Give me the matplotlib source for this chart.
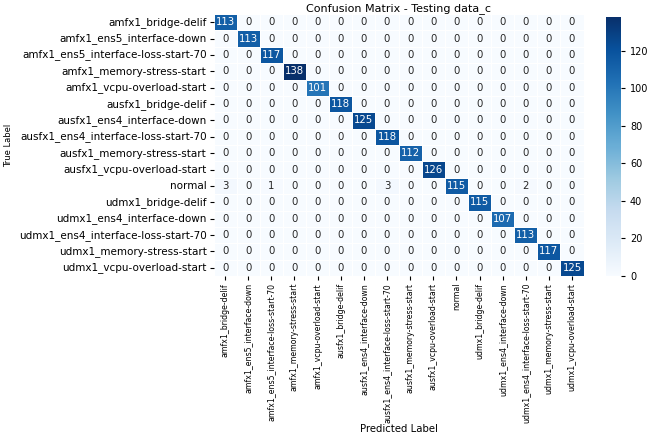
import matplotlib
matplotlib.use("Agg")
import matplotlib.pyplot as plt
import seaborn as sns
import numpy as np

labels = [
    "amfx1_bridge-delif",
    "amfx1_ens5_interface-down",
    "amfx1_ens5_interface-loss-start-70",
    "amfx1_memory-stress-start",
    "amfx1_vcpu-overload-start",
    "ausfx1_bridge-delif",
    "ausfx1_ens4_interface-down",
    "ausfx1_ens4_interface-loss-start-70",
    "ausfx1_memory-stress-start",
    "ausfx1_vcpu-overload-start",
    "normal",
    "udmx1_bridge-delif",
    "udmx1_ens4_interface-down",
    "udmx1_ens4_interface-loss-start-70",
    "udmx1_memory-stress-start",
    "udmx1_vcpu-overload-start",
]

diagonal = [113, 113, 117, 138, 101, 118, 125, 118, 112, 126, 115, 115, 107, 113, 117, 125]
# off-diagonal misclassifications: (true index, predicted index, count)
off_diagonal = [(10, 0, 3), (10, 2, 1), (10, 7, 3), (10, 13, 2)]

n = len(labels)
cm = np.zeros((n, n), dtype=int)
for i, v in enumerate(diagonal):
    cm[i, i] = v
for r, c, v in off_diagonal:
    cm[r, c] = v

W, H = 649, 438
fig = plt.figure(figsize=(W / 100, H / 100), dpi=100)
ax = fig.add_axes([213.5 / W, 1 - 276 / H, (583.6 - 213.5) / W, 262 / H])
cax = fig.add_axes([606 / W, 1 - 276 / H, 15 / W, (276 - 17) / H])

sns.heatmap(cm, annot=True, fmt="d", cmap="Blues", xticklabels=labels, yticklabels=labels,
            ax=ax, cbar_ax=cax, linewidths=0.6, linecolor="white",
            annot_kws={"size": 7.3})

ax.set_title("Confusion Matrix - Testing data_c", fontsize=8, pad=2)
ax.set_xlabel("Predicted Label", fontsize=7.3)
ax.xaxis.set_label_coords(0.5, -0.565)
ax.set_ylabel("True Label", fontsize=6)
ax.tick_params(axis="x", labelsize=5.6, rotation=90, length=3, pad=2)
ax.tick_params(axis="y", labelsize=7.5, rotation=0, length=3, pad=2)
cax.tick_params(labelsize=7, length=3)

fig.savefig("out.png", dpi=100)
